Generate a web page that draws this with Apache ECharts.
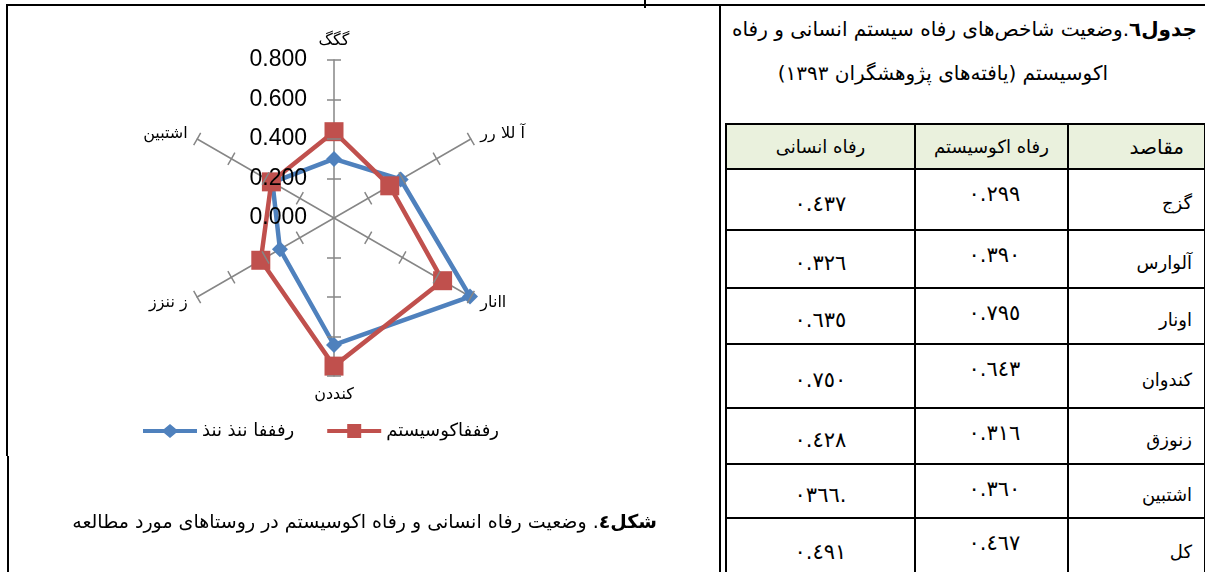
<!DOCTYPE html>
<html>
<head>
<meta charset="utf-8">
<script src="https://cdn.jsdelivr.net/npm/echarts@6/dist/echarts.min.js"></script>
<style>
  html, body { margin: 0; padding: 0; background: #fff; }
  #page { position: relative; width: 1205px; height: 572px; overflow: hidden; background: #fff; }
  #chart { position: absolute; left: 0; top: 0; width: 720px; height: 572px; }
  .ln { position: absolute; background: #000; }
  .fa { font-family: 'DejaVu Sans', sans-serif; direction: rtl; color: #000; }
  #title1 { position: absolute; right: 8px; top: 17px; font-size: 20px; white-space: nowrap; }
  #title2 { position: absolute; right: 97px; top: 61px; font-size: 20px; white-space: nowrap; }
  #caption { position: absolute; right: 548px; top: 510px; font-size: 19px; white-space: nowrap; z-index: 3; }
  #tbl { position: absolute; left: 725px; top: 123px; width: 479px; border-collapse: collapse; table-layout: fixed; }
  #tbl td { border: 2px solid #000; padding: 0; font-size: 17px; }
  #tbl tr.head td { background: #eaf1dd; text-align: center; font-size: 18px; }
  #tbl tr.head td.first { text-align: right; padding-right: 20px; font-size: 20px; }
  #tbl td.name { text-align: right; padding-right: 12px; padding-top: 6px; font-size: 18px; }
  #tbl td.eco { text-align: center; vertical-align: top; padding-top: 12px; padding-left: 6px; font-size: 21px; letter-spacing: 2px; }
  #tbl td.hum { text-align: center; padding-top: 8px; font-size: 21px; letter-spacing: 2px; }
</style>
</head>
<body>
<div id="page">
  <div id="chart"></div>
  <div class="ln" style="left:6px;top:4px;width:1199px;height:2px"></div>
  <div class="ln" style="left:6px;top:4px;width:2px;height:452px"></div>
  <div class="ln" style="left:7px;top:456px;width:2px;height:116px"></div>
  <div class="ln" style="left:644px;top:0;width:2px;height:8px"></div>
  <div class="ln" style="left:719px;top:4px;width:2px;height:568px"></div>
  <div id="title1" class="fa"><b>جدول٦</b>.وضعیت شاخص‌های رفاه سیستم انسانی و رفاه</div>
  <div id="title2" class="fa">اکوسیستم (یافته‌های پژوهشگران ١٣٩٣)</div>
  <div id="caption" class="fa"><b>شکل٤</b>. وضعیت رفاه انسانی و رفاه اکوسیستم در روستاهای مورد مطالعه</div>
  <table id="tbl" class="fa"></table>
</div>
<script>
// radar axes, clockwise from the top (labels as printed in the figure)
var axisNames = ['گگگ', 'آ للا رر', 'اانار', 'کنددن', 'ز ننزز', 'اشتبین'];
var legendNames = ['رفففا ننذ ننذ', 'رفففاکوسیستم'];

// table rows
var headers = ['مقاصد', 'رفاه اکوسیستم', 'رفاه انسانی'];
var villages = ['گزج', 'آلوارس', 'اونار', 'کندوان', 'زنوزق', 'اشتبین', 'کل'];
var ecoWelfare = [0.299, 0.390, 0.795, 0.643, 0.316, 0.360, 0.467];
var humanWelfare = [0.437, 0.326, 0.635, 0.750, 0.428, 0.366, 0.491];
var ecoLabels = ['٠.٢٩٩', '٠.٣٩٠', '٠.٧٩٥', '٠.٦٤٣', '٠.٣١٦', '٠.٣٦٠', '٠.٤٦٧'];
var humanLabels = ['٠.٤٣٧', '٠.٣٢٦', '٠.٦٣٥', '٠.٧٥٠', '٠.٤٢٨', '.٠٣٦٦', '٠.٤٩١'];
var rowHeights = [45, 61, 58, 56, 64, 56, 54, 60];

var valueMin = 0, valueMax = 0.8, valueStep = 0.2;
var tickValues = [0.2, 0.4, 0.6, 0.8];

// build the table (rtl: first cell is the rightmost)
var tbl = document.getElementById('tbl');
var html = '<colgroup><col style="width:137px"><col style="width:153px"><col style="width:189px"></colgroup>';
html += '<tr class="head" style="height:' + rowHeights[0] + 'px"><td class="first">' +
  headers[0] + '</td><td>' + headers[1] + '</td><td>' + headers[2] + '</td></tr>';
for (var i = 0; i < villages.length; i++) {
  html += '<tr style="height:' + rowHeights[i + 1] + 'px"><td class="name">' + villages[i] +
    '</td><td class="eco">' + ecoLabels[i] + '</td><td class="hum">' + humanLabels[i] + '</td></tr>';
}
tbl.innerHTML = html;

// echarts radar goes counter-clockwise, so feed the axes in reverse after the first
var order = [0, 5, 4, 3, 2, 1];
var indicator = order.map(function (i) { return { name: axisNames[i], min: valueMin, max: valueMax }; });
var blueVals = order.map(function (i) { return ecoWelfare[i]; });
var redVals = order.map(function (i) { return humanWelfare[i]; });

var CX = 334, CY = 218, R = 158;
var gray = '#868686';

// one polar per axis and tick side, only to draw the crossing tick marks (and the value labels on the top axis)
var polars = [], angleAxes = [], radiusAxes = [];
axisNames.forEach(function (n, k) {
  [7, -7].forEach(function (len) {
    var idx = polars.length;
    polars.push({ center: [CX, CY], radius: R });
    angleAxes.push({ polarIndex: idx, type: 'value', startAngle: 90 - k * 60, show: false });
    radiusAxes.push({
      polarIndex: idx,
      min: valueMin,
      max: valueMax,
      interval: valueStep,
      z: 10,
      axisLine: { show: false },
      splitLine: { show: false },
      axisTick: { show: true, length: len, customValues: tickValues, lineStyle: { color: gray, width: 1.5 } },
      axisLabel: {
        show: k === 0 && len > 0,
        color: '#000',
        fontSize: 23,
        fontFamily: 'Liberation Sans',
        margin: 27,
        formatter: function (v) { return v.toFixed(3); }
      }
    });
  });
});

var myChart = echarts.init(document.getElementById('chart'));
myChart.setOption({
  animation: false,
  backgroundColor: 'transparent',
  legend: {
    left: 138,
    top: 417,
    itemWidth: 54,
    itemHeight: 14,
    itemGap: 33,
    textStyle: { fontSize: 18, color: '#000', fontFamily: 'DejaVu Sans' },
    data: [
      { name: legendNames[0], icon: 'path://M0,5L21,5L27,0L33,5L54,5L54,9L33,9L27,14L21,9L0,9Z' },
      { name: legendNames[1], icon: 'path://M0,5L20,5L20,0L34,0L34,5L54,5L54,9L34,9L34,14L20,14L20,9L0,9Z' }
    ]
  },
  radar: {
    center: [CX, CY],
    radius: R,
    startAngle: 90,
    splitNumber: 4,
    shape: 'polygon',
    indicator: indicator,
    axisName: { color: '#000', fontSize: 16, fontFamily: 'DejaVu Sans' },
    nameGap: 11,
    axisLine: { lineStyle: { color: gray, width: 1.5 } },
    axisTick: { show: false },
    splitLine: { show: false },
    splitArea: { show: false },
    axisLabel: { show: false }
  },
  polar: polars,
  angleAxis: angleAxes,
  radiusAxis: radiusAxes,
  series: [
    {
      name: legendNames[0],
      type: 'radar',
      symbol: 'diamond',
      symbolSize: 16,
      lineStyle: { width: 4.5, color: '#4f81bd' },
      itemStyle: { color: '#4f81bd' },
      data: [{ name: legendNames[0], value: blueVals }]
    },
    {
      name: legendNames[1],
      type: 'radar',
      symbol: 'rect',
      symbolSize: 19,
      lineStyle: { width: 4.5, color: '#c0504d' },
      itemStyle: { color: '#c0504d' },
      data: [{ name: legendNames[1], value: redVals }]
    }
  ]
});
</script>
</body>
</html>
